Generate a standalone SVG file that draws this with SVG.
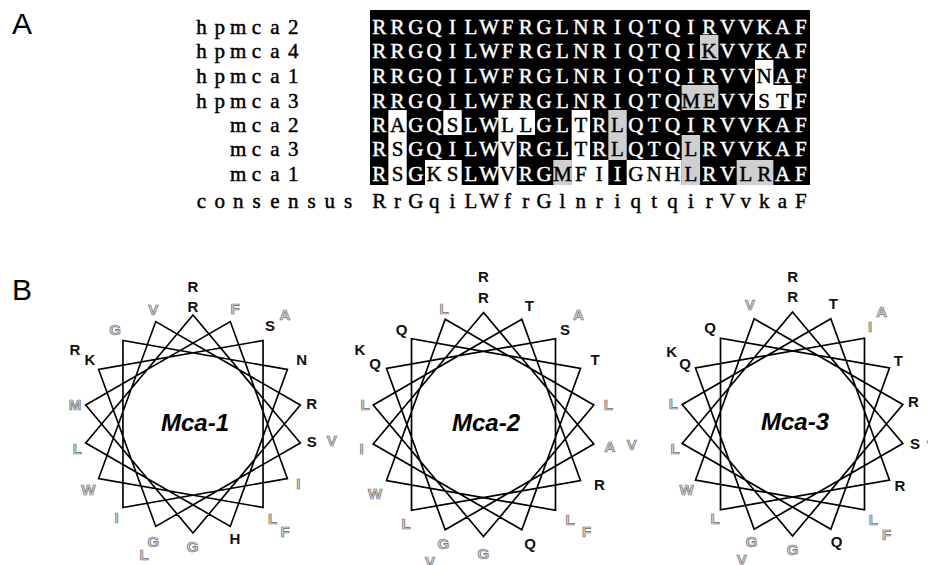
<svg xmlns="http://www.w3.org/2000/svg" xmlns:xlink="http://www.w3.org/1999/xlink" width="928" height="565" viewBox="0 0 928 565">
  <style>
    .panel { font-family: "Liberation Sans", Arial, sans-serif; font-size: 30px; fill: #000; }
    .name, .seq, .cons { font-family: "Liberation Serif", "Times New Roman", serif; font-size: 21px; text-anchor: middle; stroke-width: 0.45px; }
    .name, .cons, .seq .k { fill: #000; stroke: #000; }
    .seq { fill: #fff; stroke: #fff; }
    .gr { fill: #cfcfcf; }
    .wh { fill: #fff; }
    .helix { fill: none; stroke: #000; stroke-width: 1.7; stroke-linejoin: miter; }
    .aa { font-family: "Liberation Sans", Arial, sans-serif; font-weight: bold; font-size: 15px; text-anchor: middle; fill: #111; }
    .aa.h { fill: #d4d4d4; stroke: #6e6e6e; stroke-width: 0.7; }
    .title { font-family: "Liberation Sans", Arial, sans-serif; font-weight: bold; font-style: italic; font-size: 24px; text-anchor: middle; fill: #000; }
  </style>
  <defs>
    <!-- 18-residue helical wheel: residue k sits at 100*k degrees, consecutive residues joined -->
    <polygon id="helix" class="helix" points="0,-112 110.3,19.45 -38.31,105.25 -96.99,-56 71.99,-85.8 71.99,85.8 -96.99,56 -38.31,-105.25 110.3,-19.45 0,112 -110.3,-19.45 38.31,-105.25 96.99,56 -71.99,85.8 -71.99,-85.8 96.99,-56 38.31,105.25 -110.3,19.45"/>
  </defs>
  <rect width="928" height="565" fill="#fff"/>

  <!-- Panel A: sequence alignment -->
  <g id="panel-a">
    <text class="panel" x="12" y="34">A</text>
    <g id="names">
      <text class="name" y="33.5" x="201.5 219.8 238.2 256.5 274.8 293.2">hpmca2</text>
      <text class="name" y="58" x="201.5 219.8 238.2 256.5 274.8 293.2">hpmca4</text>
      <text class="name" y="83" x="201.5 219.8 238.2 256.5 274.8 293.2">hpmca1</text>
      <text class="name" y="107.5" x="201.5 219.8 238.2 256.5 274.8 293.2">hpmca3</text>
      <text class="name" y="132" x="238.2 256.5 274.8 293.2">mca2</text>
      <text class="name" y="156" x="238.2 256.5 274.8 293.2">mca3</text>
      <text class="name" y="180.5" x="238.2 256.5 274.8 293.2">mca1</text>
      <text class="name" y="208" x="201.5 219.8 238.2 256.5 274.8 293.2 311.5 329.8 348.2">consensus</text>
    </g>
    <g id="shading">
      <rect x="370" y="10" width="440" height="175" fill="#000"/>
      <!-- hpmca4 -->
      <rect class="gr" x="700" y="35" width="18.4" height="25"/>
      <!-- hpmca1 -->
      <rect class="wh" x="755" y="60" width="18.4" height="25"/>
      <!-- hpmca3 -->
      <rect class="gr" x="681.67" y="85" width="36.7" height="25"/>
      <rect class="wh" x="755" y="85" width="36.7" height="25"/>
      <!-- mca2 -->
      <rect class="wh" x="388.33" y="110" width="18.4" height="25"/>
      <rect class="wh" x="443.33" y="110" width="18.4" height="25"/>
      <rect class="wh" x="498.33" y="110" width="36.7" height="25"/>
      <rect class="wh" x="571.67" y="110" width="18.4" height="25"/>
      <rect class="gr" x="608.33" y="110" width="18.4" height="25"/>
      <!-- mca3 -->
      <rect class="wh" x="388.33" y="135" width="18.4" height="25"/>
      <rect class="wh" x="498.33" y="135" width="18.4" height="25"/>
      <rect class="wh" x="571.67" y="135" width="18.4" height="25"/>
      <rect class="gr" x="608.33" y="135" width="18.4" height="25"/>
      <rect class="gr" x="681.67" y="135" width="18.4" height="25"/>
      <!-- mca1 -->
      <rect class="wh" x="388.33" y="160" width="18.4" height="25"/>
      <rect class="wh" x="425" y="160" width="36.7" height="25"/>
      <rect class="wh" x="498.33" y="160" width="18.4" height="25"/>
      <rect class="gr" x="553.33" y="160" width="18.4" height="25"/>
      <rect class="wh" x="571.67" y="160" width="36.7" height="25"/>
      <rect class="wh" x="626.67" y="160" width="55" height="25"/>
      <rect class="gr" x="681.67" y="160" width="18.4" height="25"/>
      <rect class="gr" x="736.67" y="160" width="36.7" height="25"/>
    </g>
    <g id="sequences">
      <text class="seq" y="33.5" x="379.2 397.5 415.8 434.2 452.5 470.8 489.2 507.5 525.8 544.2 562.5 580.8 599.2 617.5 635.8 654.2 672.5 690.8 709.2 727.5 745.8 764.2 782.5 800.8">RRGQILWFRGLNRIQTQIRVVKAF</text>
      <text class="seq" y="58" x="379.2 397.5 415.8 434.2 452.5 470.8 489.2 507.5 525.8 544.2 562.5 580.8 599.2 617.5 635.8 654.2 672.5 690.8 709.2 727.5 745.8 764.2 782.5 800.8">RRGQILWFRGLNRIQTQI<tspan class="k">K</tspan>VVKAF</text>
      <text class="seq" y="83" x="379.2 397.5 415.8 434.2 452.5 470.8 489.2 507.5 525.8 544.2 562.5 580.8 599.2 617.5 635.8 654.2 672.5 690.8 709.2 727.5 745.8 764.2 782.5 800.8">RRGQILWFRGLNRIQTQIRVV<tspan class="k">N</tspan>AF</text>
      <text class="seq" y="107.5" x="379.2 397.5 415.8 434.2 452.5 470.8 489.2 507.5 525.8 544.2 562.5 580.8 599.2 617.5 635.8 654.2 672.5 690.8 709.2 727.5 745.8 764.2 782.5 800.8">RRGQILWFRGLNRIQTQ<tspan class="k">ME</tspan>VV<tspan class="k">ST</tspan>F</text>
      <text class="seq" y="132" x="379.2 397.5 415.8 434.2 452.5 470.8 489.2 507.5 525.8 544.2 562.5 580.8 599.2 617.5 635.8 654.2 672.5 690.8 709.2 727.5 745.8 764.2 782.5 800.8">R<tspan class="k">A</tspan>GQ<tspan class="k">S</tspan>LW<tspan class="k">LL</tspan>GL<tspan class="k">T</tspan>R<tspan class="k">L</tspan>QTQIRVVKAF</text>
      <text class="seq" y="156" x="379.2 397.5 415.8 434.2 452.5 470.8 489.2 507.5 525.8 544.2 562.5 580.8 599.2 617.5 635.8 654.2 672.5 690.8 709.2 727.5 745.8 764.2 782.5 800.8">R<tspan class="k">S</tspan>GQILW<tspan class="k">V</tspan>RGL<tspan class="k">T</tspan>R<tspan class="k">L</tspan>QTQ<tspan class="k">L</tspan>RVVKAF</text>
      <text class="seq" y="180.5" x="379.2 397.5 415.8 434.2 452.5 470.8 489.2 507.5 525.8 544.2 562.5 580.8 599.2 617.5 635.8 654.2 672.5 690.8 709.2 727.5 745.8 764.2 782.5 800.8">R<tspan class="k">S</tspan>G<tspan class="k">KS</tspan>LW<tspan class="k">V</tspan>RG<tspan class="k">MFI</tspan>I<tspan class="k">GNHL</tspan>RV<tspan class="k">LR</tspan>AF</text>
      <text class="cons" y="208" x="379.2 397.5 415.8 434.2 452.5 470.8 489.2 507.5 525.8 544.2 562.5 580.8 599.2 617.5 635.8 654.2 672.5 690.8 709.2 727.5 745.8 764.2 782.5 800.8">RrGqiLWfrGlnriqtqirVvkaF</text>
    </g>
  </g>

  <!-- Panel B: helical wheels -->
  <g id="panel-b">
    <text class="panel" x="12" y="300">B</text>

    <g id="wheel-mca1">
      <use xlink:href="#helix" href="#helix" transform="translate(193 424) scale(0.973)"/>
      <text class="title" x="195" y="431">Mca-1</text>
      <text class="aa" x="193" y="312">R</text>
      <text class="aa" x="193" y="292">R</text>
      <text class="aa h" x="235" y="313.7">F</text>
      <text class="aa" x="270" y="331.4">S</text>
      <text class="aa h" x="285" y="320.4">A</text>
      <text class="aa" x="301.7" y="365.4">N</text>
      <text class="aa" x="311.7" y="408.7">R</text>
      <text class="aa" x="311.7" y="447.1">S</text>
      <text class="aa h" x="331.7" y="446">V</text>
      <text class="aa h" x="298.3" y="488.7">I</text>
      <text class="aa h" x="272.7" y="523.7">L</text>
      <text class="aa h" x="285" y="537">F</text>
      <text class="aa" x="235" y="543.7">H</text>
      <text class="aa h" x="192.7" y="552">G</text>
      <text class="aa h" x="153.3" y="547">G</text>
      <text class="aa h" x="144" y="560.4">L</text>
      <text class="aa h" x="116.7" y="522.7">I</text>
      <text class="aa h" x="88.3" y="494.7">W</text>
      <text class="aa h" x="77.3" y="453.7">L</text>
      <text class="aa h" x="75" y="410.4">M</text>
      <text class="aa" x="90" y="365.4">K</text>
      <text class="aa" x="75" y="355.4">R</text>
      <text class="aa h" x="115" y="335.4">G</text>
      <text class="aa h" x="153.3" y="315.4">V</text>
    </g>

    <g id="wheel-mca2">
      <use xlink:href="#helix" href="#helix" transform="translate(483.5 424.5)"/>
      <text class="title" x="486" y="431">Mca-2</text>
      <text class="aa" x="483.3" y="302.7">R</text>
      <text class="aa" x="483.3" y="282">R</text>
      <text class="aa" x="529.3" y="311.4">T</text>
      <text class="aa" x="565" y="334.7">S</text>
      <text class="aa h" x="578.3" y="320.4">A</text>
      <text class="aa" x="595" y="364.7">T</text>
      <text class="aa h" x="608.3" y="410.4">L</text>
      <text class="aa h" x="610" y="452">A</text>
      <text class="aa h" x="631.7" y="450">V</text>
      <text class="aa" x="599.3" y="490.4">R</text>
      <text class="aa h" x="570" y="525.4">L</text>
      <text class="aa h" x="586.7" y="537">F</text>
      <text class="aa" x="530" y="548.7">Q</text>
      <text class="aa h" x="483.3" y="558.7">G</text>
      <text class="aa h" x="443.3" y="548.7">G</text>
      <text class="aa h" x="430" y="567">V</text>
      <text class="aa h" x="406" y="528.7">L</text>
      <text class="aa h" x="375" y="498.7">W</text>
      <text class="aa h" x="361.7" y="453.7">I</text>
      <text class="aa h" x="365" y="410.4">L</text>
      <text class="aa" x="375" y="368.7">Q</text>
      <text class="aa" x="360" y="355.4">K</text>
      <text class="aa" x="401.7" y="334.7">Q</text>
      <text class="aa h" x="444" y="313.7">L</text>
    </g>

    <g id="wheel-mca3">
      <use xlink:href="#helix" href="#helix" transform="translate(792.5 424)"/>
      <text class="title" x="795" y="430">Mca-3</text>
      <text class="aa" x="792.7" y="302">R</text>
      <text class="aa" x="792.7" y="282">R</text>
      <text class="aa" x="833.3" y="308.7">T</text>
      <text class="aa h" x="870" y="332">I</text>
      <text class="aa h" x="881.7" y="317">A</text>
      <text class="aa" x="898.3" y="366">T</text>
      <text class="aa" x="913.3" y="407">R</text>
      <text class="aa" x="915" y="448.7">S</text>
      <text class="aa h" x="932" y="451">V</text>
      <text class="aa" x="900" y="491.4">R</text>
      <text class="aa h" x="873.3" y="525.4">L</text>
      <text class="aa h" x="886.7" y="540.4">F</text>
      <text class="aa" x="836.7" y="547">Q</text>
      <text class="aa h" x="792.7" y="555.4">G</text>
      <text class="aa h" x="751.7" y="547">G</text>
      <text class="aa h" x="741.7" y="565.4">V</text>
      <text class="aa h" x="715" y="523.7">L</text>
      <text class="aa h" x="686.7" y="495.4">W</text>
      <text class="aa h" x="675" y="453.7">L</text>
      <text class="aa h" x="673.3" y="408.7">L</text>
      <text class="aa" x="685" y="368.7">Q</text>
      <text class="aa" x="671.7" y="357">K</text>
      <text class="aa" x="710" y="332.7">Q</text>
      <text class="aa h" x="750" y="310.4">V</text>
    </g>
  </g>
</svg>
